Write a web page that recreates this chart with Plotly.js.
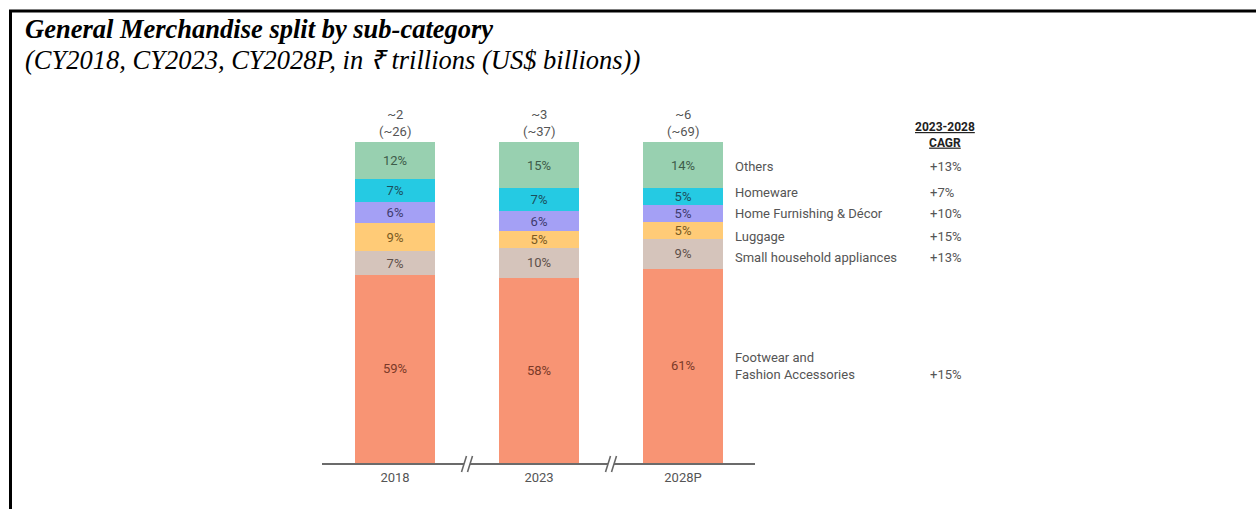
<!DOCTYPE html>
<html>
<head>
<meta charset="utf-8">
<script src="https://cdn.plot.ly/plotly-3.0.1.min.js"></script>
<style>
  html, body { margin: 0; padding: 0; background: #fff; }
  #chart { width: 1256px; height: 509px; }
</style>
</head>
<body>
<div id="chart"></div>
<script>
// ---- data ----
const years = ["2018", "2023", "2028P"];
const totalsINR = ["~2", "~3", "~6"];
const totalsUSD = ["(~26)", "(~37)", "(~69)"];

// stack order bottom -> top
const categories = [
  "Footwear and<br>Fashion Accessories",
  "Small household appliances",
  "Luggage",
  "Home Furnishing & Décor",
  "Homeware",
  "Others"
];
// segment shares (%)
const shares = [
  [58.6, 57.5, 60.4],   // Footwear and Fashion Accessories
  [7.3, 9.5, 9.3],      // Small household appliances
  [8.9, 5.2, 5.3],      // Luggage
  [6.6, 6.2, 5.3],      // Home Furnishing & Décor
  [7.0, 7.1, 5.2],      // Homeware
  [11.6, 14.4, 14.4]    // Others
];
// printed labels
const shareLabels = [
  ["59%", "58%", "61%"],
  ["7%", "10%", "9%"],
  ["9%", "5%", "5%"],
  ["6%", "6%", "5%"],
  ["7%", "7%", "5%"],
  ["12%", "15%", "14%"]
];
const cagr = ["+15%", "+13%", "+15%", "+10%", "+7%", "+13%"];

// ---- styles ----
const colors = ["#f89474", "#d5c4bb", "#ffcb77", "#a4a0f5", "#25cae3", "#98d0b0"];
const textColors = ["#7a3a28", "#5e504a", "#7a5a22", "#3e3b6e", "#1b4f5c", "#3e5c4a"];
// label vertical positions (pixel rows of the label centres), bottom -> top
const labelPY = [366, 257, 236, 213, 192, 166];
const cagrPY  = [374, 257, 236, 213, 192, 166];

const xs = years.map((_, i) => i);

const traces = categories.map((cat, k) => ({
  type: "bar",
  x: xs,
  y: shares[k],
  name: cat.replace("<br>", " "),
  text: shareLabels[k],
  textposition: "inside",
  insidetextanchor: "middle",
  textangle: 0,
  constraintext: "none",
  textfont: { family: "Roboto, sans-serif", size: 13, color: textColors[k] },
  marker: { color: colors[k], line: { width: 0 } },
  width: 0.556,
  hoverinfo: "skip",
  cliponaxis: false
}));

// pixel -> paper helpers (plot area: x 322..755, y 142..463)
const PX = px => (px - 322) / 433;
const PY = py => (463 - py) / 321;

const annotations = [];
// totals on top
years.forEach((y, i) => {
  annotations.push({
    x: i, y: 1, xref: "x", yref: "paper",
    text: totalsINR[i] + "<br>" + totalsUSD[i],
    showarrow: false, yanchor: "bottom", yshift: 1,
    font: { family: "Roboto, sans-serif", size: 13, color: "#555" }
  });
});
// category labels and CAGR
categories.forEach((cat, k) => {
  annotations.push({
    x: PX(733), y: PY(labelPY[k]), xref: "paper", yref: "paper",
    text: cat, showarrow: false, xanchor: "left", yanchor: "middle", align: "left",
    font: { family: "Roboto, sans-serif", size: 13, color: "#555" }
  });
  annotations.push({
    x: PX(928), y: PY(cagrPY[k]), xref: "paper", yref: "paper",
    text: cagr[k], showarrow: false, xanchor: "left", yanchor: "middle", align: "left",
    font: { family: "Roboto, sans-serif", size: 13, color: "#555" }
  });
});
// CAGR header
annotations.push({
  x: PX(945), y: PY(135), xref: "paper", yref: "paper",
  text: "<b><u>2023-2028</u></b><br><b><u>CAGR</u></b>",
  showarrow: false, xanchor: "center", yanchor: "middle",
  font: { family: "Roboto, sans-serif", size: 12, color: "#222" }
});
// Title & subtitle
annotations.push({
  x: PX(23), y: PY(29), xref: "paper", yref: "paper",
  text: "<b><i>General Merchandise split by sub-category</i></b>",
  showarrow: false, xanchor: "left", yanchor: "middle",
  font: { family: "Liberation Serif, Times New Roman, serif", size: 26.5, color: "#000" }
});
annotations.push({
  x: PX(23), y: PY(60), xref: "paper", yref: "paper",
  text: "<i>(CY2018, CY2023, CY2028P, in ₹ trillions (US$ billions))</i>",
  showarrow: false, xanchor: "left", yanchor: "middle",
  font: { family: "Liberation Serif, Times New Roman, serif", size: 26.5, color: "#000" }
});

// axis break marks between bars (paper refs so nothing is clipped)
const shapes = [];
[467, 611].forEach(c => {
  shapes.push({
    type: "line", xref: "paper", yref: "paper",
    x0: PX(c - 3), x1: PX(c + 3), y0: PY(463), y1: PY(463),
    line: { color: "#fff", width: 4 }
  });
  [-3, 3].forEach(off => {
    shapes.push({
      type: "line", xref: "paper", yref: "paper",
      x0: PX(c + off - 2.5), y0: PY(472),
      x1: PX(c + off + 2.5), y1: PY(456),
      line: { color: "#666", width: 1.6 }
    });
  });
});
// frame (left and top border)
shapes.push({
  type: "line", xref: "paper", yref: "paper",
  x0: PX(10.5), x1: PX(10.5), y0: PY(10), y1: PY(520),
  line: { color: "#000", width: 3 }
});
shapes.push({
  type: "line", xref: "paper", yref: "paper",
  x0: PX(9), x1: PX(1270), y0: PY(11), y1: PY(11),
  line: { color: "#000", width: 3 }
});

const layout = {
  width: 1256, height: 509,
  margin: { l: 322, r: 501, t: 142, b: 46, pad: 0 },
  paper_bgcolor: "#fff", plot_bgcolor: "#fff",
  barmode: "stack",
  barnorm: "percent",
  showlegend: false,
  font: { family: "Roboto, sans-serif", color: "#555" },
  xaxis: {
    range: [-0.507, 2.5],
    tickvals: xs, ticktext: years,
    showgrid: false, zeroline: false,
    showline: true, linecolor: "#6b6b6b", linewidth: 2,
    ticks: "", ticklabelstandoff: 1,
    tickfont: { family: "Roboto, sans-serif", size: 13, color: "#555" },
    fixedrange: true
  },
  yaxis: {
    range: [0, 100], visible: false, showgrid: false, zeroline: false, fixedrange: true
  },
  annotations: annotations,
  shapes: shapes
};

Plotly.newPlot("chart", traces, layout, { displayModeBar: false, staticPlot: true });
</script>
</body>
</html>
